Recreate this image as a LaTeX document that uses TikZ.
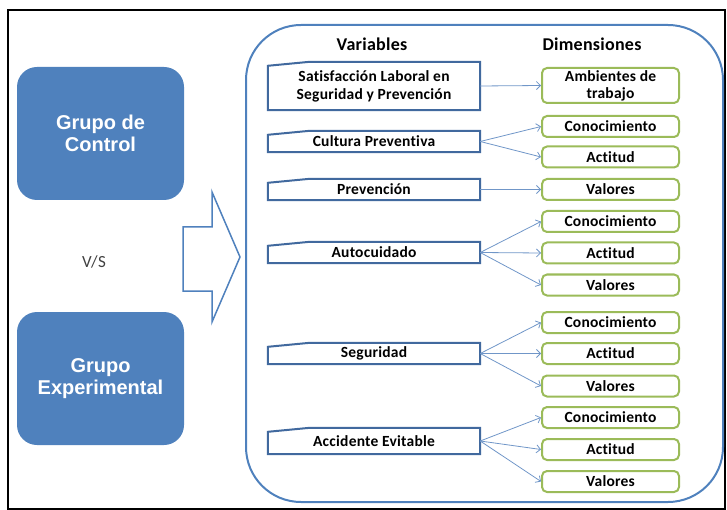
\documentclass[tikz,border=0pt]{standalone}
\usepackage{fontspec}
\setmainfont{Carlito}[Ligatures=NoCommon, LetterSpace=1.5]
\newfontfamily\grpfont{Liberation Sans}
\usetikzlibrary{arrows.meta}
\definecolor{boxblue}{HTML}{4F81BD}
\definecolor{lineblue}{HTML}{41699E}
\definecolor{linkblue}{HTML}{7096C8}
\definecolor{dimgreen}{HTML}{9BBB59}

\begin{document}
\begin{tikzpicture}[x=1pt,y=-1pt]
    \tikzset{% This is the style settings for boxes and links
    grp/.style={rectangle, rounded corners=20pt, fill=boxblue, minimum width=167pt, minimum height=133pt, text=white, align=center, font=\grpfont\bfseries\fontsize{20}{22}\selectfont},
    var/.style={rectangle, minimum width=212pt, inner sep=0pt, align=center, font=\bfseries\fontsize{15.5}{18}\selectfont},
    varline/.style={draw=lineblue, line width=2pt},
    dim/.style={rectangle, rounded corners=5pt, draw=dimgreen, line width=2pt, fill=white, minimum width=137pt, minimum height=21pt, inner sep=0pt, align=center, font=\bfseries\fontsize{15.5}{17}\selectfont},
    head/.style={font=\bfseries\fontsize{18}{20}\selectfont},
    link/.style={-{Straight Barb[length=4pt,width=8pt]}, linkblue, line width=0.8pt},
    %frame/.style={boxblue, line width=2pt},
    }
    \useasboundingbox (0,0) rectangle (727,510);
    \draw[line width=1.5pt] (8,10) rectangle (725,509);

    % Groups
    \node[grp] (g1) at (100.5,133.5) {Grupo de\\Control};
    \node[grp] (g2) at (100.5,378.5) {Grupo\\Experimental};
    \node[font=\fontsize{17}{19}\selectfont, text=black!75] (vs) at (94,262) {V/S};

    % Block arrow and container
    \draw[boxblue, line width=1.5pt, fill=white] (183,227) -- (212,227) -- (212,192) -- (240,257)
        -- (212,322) -- (212,291) -- (183,291) -- cycle;
    \draw[boxblue, line width=2pt, rounded corners=55pt] (246,25) rectangle (723,502);

    \node[head] (hv) at (372,44) {Variables};
    \node[head] (hd) at (592,44) {Dimensiones};

    % Variables
    \node[var, minimum height=48pt] (v1) at (374,86) {Satisfacción Laboral en\\Seguridad y Prevención};
    \node[var, minimum height=21pt] (v2) at (374,141.5) {Cultura Preventiva};
    \node[var, minimum height=21pt] (v3) at (374,189.5) {Prevención};
    \node[var, minimum height=21pt] (v4) at (374,252.5) {Autocuidado};
    \node[var, minimum height=21pt] (v5) at (374,353.5) {Seguridad};
    \node[var, minimum height=26pt] (v6) at (374,441) {Accidente Evitable};
    \foreach \v in {v1,v2,v3,v4,v5,v6}
        \draw[varline] (\v.south west) -- ([yshift=-4pt]\v.north west) -- ([xshift=42pt]\v.north west)
            -- (\v.north east) -- (\v.south east) -- cycle;

    % Dimensions
    \node[dim, minimum height=35pt] (d1) at (610.5,85.5) {Ambientes de\\trabajo};
    \node[dim] (d2) at (610.5,126.5) {Conocimiento};
    \node[dim] (d3) at (610.5,157) {Actitud};
    \node[dim] (d4) at (610.5,189.5) {Valores};
    \node[dim] (d5) at (610.5,221.5) {Conocimiento};
    \node[dim] (d6) at (610.5,253) {Actitud};
    \node[dim] (d7) at (610.5,285) {Valores};
    \node[dim] (d8) at (610.5,322.5) {Conocimiento};
    \node[dim] (d9) at (610.5,353.5) {Actitud};
    \node[dim] (d10) at (610.5,386) {Valores};
    \node[dim] (d11) at (610.5,417.5) {Conocimiento};
    \node[dim] (d12) at (610.5,449.5) {Actitud};
    \node[dim] (d13) at (610.5,481.5) {Valores};

    %Links
    \path[link] (v1.east) edge (d1.west);
    \path[link] (v2.east) edge (d2.west) edge (d3.west);
    \path[link] (v3.east) edge (d4.west);
    \path[link] (v4.east) edge (d5.west) edge (d6.west) edge (d7.west);
    \path[link] (v5.east) edge (d8.west) edge (d9.west) edge (d10.west);
    \path[link] (v6.east) edge (d11.west) edge (d12.west) edge (d13.west);

\end{tikzpicture}
\end{document}
